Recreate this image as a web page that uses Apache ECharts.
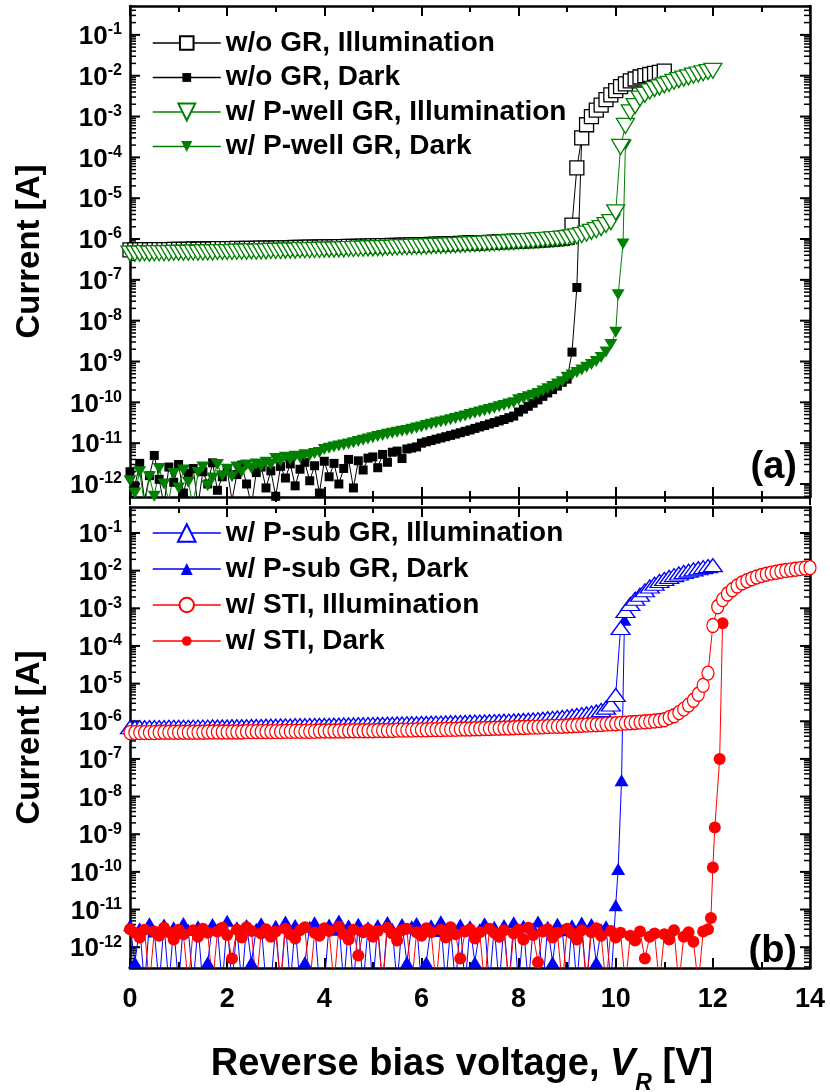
<!DOCTYPE html>
<html>
<head>
<meta charset="utf-8">
<script src="https://cdn.jsdelivr.net/npm/echarts@6/dist/echarts.min.js"></script>
<style>
html,body{margin:0;padding:0;background:#fff;}
#chart{width:830px;height:1092px;}
</style>
</head>
<body>
<div id="chart"></div>
<script>
// ---------------- DATA ----------------
// measurement voltage grid (V)
const vGrid = [
0,0.1,0.2,0.3,0.4,0.5,0.6,0.7,0.8,0.9,
1,1.1,1.2,1.3,1.4,1.5,1.6,1.7,1.8,1.9,
2,2.1,2.2,2.3,2.4,2.5,2.6,2.7,2.8,2.9,
3,3.1,3.2,3.3,3.4,3.5,3.6,3.7,3.8,3.9,
4,4.1,4.2,4.3,4.4,4.5,4.6,4.7,4.8,4.9,
5,5.1,5.2,5.3,5.4,5.5,5.6,5.7,5.8,5.9,
6,6.1,6.2,6.3,6.4,6.5,6.6,6.7,6.8,6.9,
7,7.1,7.2,7.3,7.4,7.5,7.6,7.7,7.8,7.9,
8,8.1,8.2,8.3,8.4,8.5,8.6,8.7,8.8,8.9,
9,9.1,9.2,9.3,9.4,9.5,9.6,9.7,9.8,9.9,
10,10.1,10.2,10.3,10.4,10.5,10.6,10.7,10.8,10.9,
11,11.1,11.2,11.3,11.4,11.5,11.6,11.7,11.8,11.9,
12,12.1,12.2,12.3,12.4,12.5,12.6,12.7,12.8,12.9,
13,13.1,13.2,13.3,13.4,13.5,13.6,13.7,13.8,13.9,
14];

// (a) w/o GR, Illumination  (A), 0 .. 11.0 V
const woIllum = [
5.4e-7,5.4e-7,5.4e-7,5.5e-7,5.4e-7,5.5e-7,5.5e-7,5.5e-7,5.5e-7,5.6e-7,
5.6e-7,5.6e-7,5.6e-7,5.7e-7,5.6e-7,5.7e-7,5.7e-7,5.7e-7,5.8e-7,5.8e-7,
5.8e-7,5.8e-7,5.9e-7,5.8e-7,5.9e-7,5.9e-7,5.9e-7,6.0e-7,6.0e-7,6.0e-7,
6.0e-7,6.1e-7,6.1e-7,6.1e-7,6.2e-7,6.2e-7,6.2e-7,6.3e-7,6.3e-7,6.3e-7,
6.4e-7,6.4e-7,6.4e-7,6.5e-7,6.5e-7,6.6e-7,6.6e-7,6.6e-7,6.7e-7,6.7e-7,
6.8e-7,6.8e-7,6.9e-7,6.9e-7,7.0e-7,7.0e-7,7.1e-7,7.1e-7,7.2e-7,7.2e-7,
7.3e-7,7.3e-7,7.4e-7,7.5e-7,7.5e-7,7.6e-7,7.7e-7,7.7e-7,7.8e-7,7.9e-7,
8.0e-7,8.0e-7,8.1e-7,8.2e-7,8.3e-7,8.4e-7,8.5e-7,8.6e-7,8.7e-7,8.8e-7,
8.9e-7,9.0e-7,9.1e-7,9.2e-7,9.4e-7,9.5e-7,9.7e-7,9.9e-7,1.01e-6,1.04e-6,
1.1e-6,2.2e-6,5.5e-5,3.0e-4,6.3e-4,1.0e-3,1.44e-3,1.9e-3,2.6e-3,3.4e-3,
4.3e-3,5.4e-3,6.3e-3,7.5e-3,8.3e-3,9.3e-3,1.0e-2,1.07e-2,1.14e-2,1.21e-2,
1.3e-2];

// (a) w/o GR, Dark (A), 0 .. 9.3 V
const woDark = [
2.0e-12,9e-13,3.2e-12,4e-13,1.6e-12,5.0e-12,1.3e-12,3e-13,2.6e-12,1.1e-12,
3.0e-12,6e-13,1.8e-12,2.4e-12,3e-13,2.0e-12,1.0e-12,3.3e-12,7e-13,1.5e-12,
2.2e-12,4e-13,1.7e-12,2.9e-12,1.0e-12,3e-13,1.9e-12,2.6e-12,8e-13,2.1e-12,
5e-13,2.7e-12,1.4e-12,3.1e-12,9e-13,2.3e-12,3.4e-12,1.2e-12,2.8e-12,6e-13,
3.6e-12,1.5e-12,3.2e-12,1.0e-12,2.4e-12,4.0e-12,8e-13,3.7e-12,2.2e-12,4.3e-12,
4.6e-12,2.5e-12,5.3e-12,3.4e-12,6.0e-12,6.4e-12,4.2e-12,7.2e-12,7.6e-12,8.1e-12,
1.0e-11,1.08e-11,1.16e-11,1.25e-11,1.34e-11,1.44e-11,1.55e-11,1.67e-11,1.8e-11,1.95e-11,
2.1e-11,2.3e-11,2.5e-11,2.7e-11,2.95e-11,3.2e-11,3.5e-11,3.8e-11,4.2e-11,4.6e-11,
5.8e-11,6.8e-11,8.0e-11,9.5e-11,1.15e-10,1.4e-10,1.7e-10,2.05e-10,2.5e-10,3.1e-10,
3.7e-10,1.7e-9,6.5e-8,3.0e-4];

// (a) w/ P-well GR, Illumination (A), 0 .. 12.0 V
const pwIllum = [
4.4e-7,4.4e-7,4.4e-7,4.5e-7,4.4e-7,4.5e-7,4.5e-7,4.5e-7,4.5e-7,4.6e-7,
4.6e-7,4.6e-7,4.6e-7,4.7e-7,4.6e-7,4.7e-7,4.7e-7,4.7e-7,4.8e-7,4.8e-7,
4.8e-7,4.8e-7,4.9e-7,4.9e-7,4.9e-7,5.0e-7,4.9e-7,5.0e-7,5.0e-7,5.1e-7,
5.1e-7,5.1e-7,5.2e-7,5.2e-7,5.2e-7,5.3e-7,5.3e-7,5.3e-7,5.4e-7,5.4e-7,
5.5e-7,5.5e-7,5.5e-7,5.6e-7,5.6e-7,5.7e-7,5.7e-7,5.8e-7,5.8e-7,5.9e-7,
5.9e-7,6.0e-7,6.0e-7,6.1e-7,6.1e-7,6.2e-7,6.3e-7,6.3e-7,6.4e-7,6.5e-7,
6.5e-7,6.6e-7,6.7e-7,6.8e-7,6.8e-7,6.9e-7,7.0e-7,7.1e-7,7.2e-7,7.3e-7,
7.4e-7,7.5e-7,7.6e-7,7.7e-7,7.8e-7,7.9e-7,8.0e-7,8.2e-7,8.3e-7,8.4e-7,
8.6e-7,8.7e-7,8.9e-7,9.0e-7,9.2e-7,9.4e-7,9.6e-7,9.8e-7,1.0e-6,1.02e-6,
1.05e-6,1.1e-6,1.16e-6,1.24e-6,1.35e-6,1.5e-6,1.65e-6,1.85e-6,2.2e-6,2.6e-6,
4.5e-6,1.8e-4,5.9e-4,1.26e-3,1.8e-3,2.75e-3,3.4e-3,4.1e-3,4.7e-3,5.2e-3,
5.8e-3,6.3e-3,7.1e-3,7.8e-3,8.5e-3,9.1e-3,1.0e-2,1.07e-2,1.15e-2,1.23e-2,
1.32e-2];

// (a) w/ P-well GR, Dark (A), 0 .. 10.0 V on grid, then breakdown points
const pwDark = [
1.2e-12,6e-13,2.0e-12,3e-13,1.5e-12,5e-13,2.4e-12,1.0e-12,4e-13,1.8e-12,
8e-13,2.2e-12,1.1e-12,3e-13,1.9e-12,2.6e-12,9e-13,1.4e-12,3.0e-12,1.6e-12,
2.3e-12,1.5e-12,2.6e-12,2.0e-12,2.9e-12,2.4e-12,3.1e-12,2.7e-12,3.4e-12,3.0e-12,
4.2e-12,3.6e-12,4.5e-12,4.0e-12,4.8e-12,4.4e-12,5.2e-12,5.0e-12,5.6e-12,5.9e-12,
7.0e-12,7.5e-12,8.0e-12,8.5e-12,9.0e-12,9.6e-12,1.02e-11,1.1e-11,1.18e-11,1.26e-11,
1.35e-11,1.45e-11,1.55e-11,1.65e-11,1.75e-11,1.85e-11,1.95e-11,2.05e-11,2.2e-11,2.35e-11,
2.5e-11,2.7e-11,2.9e-11,3.1e-11,3.3e-11,3.5e-11,3.75e-11,4.0e-11,4.3e-11,4.6e-11,
5.0e-11,5.4e-11,5.8e-11,6.2e-11,6.7e-11,7.2e-11,7.8e-11,8.4e-11,9.1e-11,9.8e-11,
1.15e-10,1.25e-10,1.37e-10,1.5e-10,1.65e-10,1.9e-10,2.15e-10,2.45e-10,2.8e-10,3.2e-10,
4.1e-10,4.7e-10,5.4e-10,6.2e-10,7.2e-10,8.5e-10,1.0e-9,1.25e-9,1.7e-9,2.6e-9,
5.2e-9];
const pwDarkTailV = [10.05, 10.15, 10.2];
const pwDarkTailI = [4.3e-8, 7.6e-7, 2.0e-4];

// (b) w/ P-sub GR, Illumination (A), 0 .. 12.0 V
const psIllum = [
6.9e-7,6.9e-7,7.0e-7,6.9e-7,7.0e-7,7.0e-7,7.0e-7,7.0e-7,7.1e-7,7.1e-7,
7.1e-7,7.1e-7,7.1e-7,7.2e-7,7.2e-7,7.2e-7,7.2e-7,7.3e-7,7.3e-7,7.3e-7,
7.3e-7,7.4e-7,7.4e-7,7.4e-7,7.4e-7,7.5e-7,7.5e-7,7.5e-7,7.6e-7,7.6e-7,
7.6e-7,7.7e-7,7.7e-7,7.7e-7,7.8e-7,7.8e-7,7.8e-7,7.9e-7,7.9e-7,8.0e-7,
8.0e-7,8.0e-7,8.1e-7,8.1e-7,8.2e-7,8.2e-7,8.2e-7,8.3e-7,8.3e-7,8.4e-7,
8.4e-7,8.5e-7,8.5e-7,8.6e-7,8.6e-7,8.7e-7,8.7e-7,8.8e-7,8.9e-7,8.9e-7,
9.0e-7,9.0e-7,9.1e-7,9.2e-7,9.2e-7,9.3e-7,9.4e-7,9.4e-7,9.5e-7,9.6e-7,
9.7e-7,9.8e-7,9.8e-7,9.9e-7,1.0e-6,1.01e-6,1.02e-6,1.03e-6,1.04e-6,1.05e-6,
1.06e-6,1.08e-6,1.1e-6,1.12e-6,1.14e-6,1.17e-6,1.2e-6,1.23e-6,1.26e-6,1.3e-6,
1.35e-6,1.4e-6,1.46e-6,1.53e-6,1.61e-6,1.7e-6,1.82e-6,2.0e-6,2.3e-6,2.8e-6,
5.0e-6,3.0e-4,8.5e-4,1.3e-3,1.8e-3,2.3e-3,3.0e-3,3.8e-3,4.5e-3,5.3e-3,
6.0e-3,6.8e-3,7.6e-3,8.4e-3,9.2e-3,1.0e-2,1.08e-2,1.16e-2,1.24e-2,1.32e-2,
1.4e-2];

// (b) w/ P-sub GR, Dark (A), 0 .. 10.0 V on grid, then breakdown points
const psDark = [
3.8e-12,4e-13,3.2e-12,1e-13,4.3e-12,2.6e-12,1e-13,4.0e-12,1e-13,3.4e-12,
1e-13,4.4e-12,2.9e-12,1e-13,3.6e-12,1e-13,4e-13,4.1e-12,3.0e-12,1e-13,
5.0e-12,1e-13,3.4e-12,1e-13,3.9e-12,4e-13,3.1e-12,4.3e-12,1e-13,1e-13,
3.7e-12,1e-13,4.8e-12,1e-13,3.9e-12,1e-13,4e-13,3.5e-12,4.6e-12,1e-13,
1e-13,4.0e-12,2.9e-12,5.1e-12,1e-13,3.8e-12,1e-13,4.2e-12,1e-13,3.4e-12,
1e-13,3.9e-12,1e-13,4.7e-12,3.1e-12,1e-13,4.1e-12,4e-13,3.6e-12,4.4e-12,
1e-13,4e-13,3.8e-12,2.7e-12,4.9e-12,1e-13,3.3e-12,1e-13,4.0e-12,1e-13,
3.6e-12,4e-13,3.0e-12,4.3e-12,1e-13,3.5e-12,1e-13,3.9e-12,1e-13,4.6e-12,
1e-13,3.7e-12,1e-13,3.2e-12,4.8e-12,1e-13,3.5e-12,4e-13,4.2e-12,2.8e-12,
1e-13,3.8e-12,1e-13,4.5e-12,1e-13,4.1e-12,4e-13,3.0e-12,3.6e-12,1e-13,
1.3e-11];
const psDarkTailV = [10.05, 10.12, 10.18];
const psDarkTailI = [1.2e-10, 2.7e-8, 5.0e-4];

// (b) w/ STI, Illumination (A), 0 .. 14.0 V
const stiIllum = [
5.0e-7,5.0e-7,5.0e-7,5.0e-7,5.0e-7,5.0e-7,5.1e-7,5.1e-7,5.1e-7,5.1e-7,
5.1e-7,5.1e-7,5.1e-7,5.1e-7,5.1e-7,5.1e-7,5.2e-7,5.2e-7,5.2e-7,5.2e-7,
5.2e-7,5.2e-7,5.2e-7,5.2e-7,5.3e-7,5.3e-7,5.3e-7,5.3e-7,5.3e-7,5.3e-7,
5.3e-7,5.3e-7,5.4e-7,5.4e-7,5.4e-7,5.4e-7,5.4e-7,5.4e-7,5.4e-7,5.5e-7,
5.5e-7,5.5e-7,5.5e-7,5.5e-7,5.5e-7,5.6e-7,5.6e-7,5.6e-7,5.6e-7,5.6e-7,
5.6e-7,5.7e-7,5.7e-7,5.7e-7,5.7e-7,5.8e-7,5.8e-7,5.8e-7,5.8e-7,5.9e-7,
5.9e-7,5.9e-7,6.0e-7,6.0e-7,6.0e-7,6.1e-7,6.1e-7,6.1e-7,6.2e-7,6.2e-7,
6.2e-7,6.3e-7,6.3e-7,6.4e-7,6.4e-7,6.5e-7,6.5e-7,6.6e-7,6.6e-7,6.7e-7,
6.8e-7,6.8e-7,6.9e-7,7.0e-7,7.0e-7,7.1e-7,7.2e-7,7.3e-7,7.3e-7,7.4e-7,
7.5e-7,7.6e-7,7.7e-7,7.8e-7,7.9e-7,8.0e-7,8.1e-7,8.2e-7,8.4e-7,8.5e-7,
8.6e-7,8.8e-7,8.9e-7,9.1e-7,9.3e-7,9.5e-7,9.7e-7,9.9e-7,1.02e-6,1.05e-6,
1.1e-6,1.25e-6,1.4e-6,1.7e-6,2.1e-6,2.7e-6,3.6e-6,5.2e-6,9.0e-6,1.9e-5,
3.5e-4,1.1e-3,1.7e-3,2.4e-3,3.1e-3,3.9e-3,4.7e-3,5.4e-3,6.1e-3,6.8e-3,
7.4e-3,8.0e-3,8.6e-3,9.1e-3,9.6e-3,1.01e-2,1.05e-2,1.09e-2,1.13e-2,1.17e-2,
1.2e-2];

// (b) w/ STI, Dark (A), 0 .. 11.9 V on grid, then breakdown points
const stiDark = [
3.0e-12,2.4e-12,1.8e-12,2.9e-12,1e-13,2.6e-12,2.0e-12,3.3e-12,2.5e-12,1.6e-12,
2.9e-12,2.2e-12,1e-13,2.8e-12,1.9e-12,3.1e-12,2.4e-12,1e-13,2.6e-12,3.3e-12,
2.1e-12,5e-13,2.9e-12,1.8e-12,3.4e-12,2.7e-12,1e-13,2.3e-12,3.0e-12,1.9e-12,
2.6e-12,1e-13,3.1e-12,2.2e-12,1.7e-12,2.8e-12,3.4e-12,1e-13,2.4e-12,2.0e-12,
3.2e-12,2.7e-12,1e-13,3.5e-12,2.2e-12,1.6e-12,2.9e-12,6e-13,2.5e-12,3.0e-12,
1.9e-12,2.7e-12,1e-13,3.3e-12,2.3e-12,1.5e-12,2.8e-12,3.1e-12,1e-13,2.5e-12,
2.0e-12,3.2e-12,2.5e-12,1e-13,2.9e-12,1.8e-12,3.4e-12,2.2e-12,5e-13,2.6e-12,
3.0e-12,1.7e-12,2.5e-12,1e-13,3.1e-12,2.4e-12,1.9e-12,2.8e-12,1e-13,2.3e-12,
2.9e-12,1.6e-12,3.3e-12,2.1e-12,4e-13,2.6e-12,3.0e-12,1.8e-12,2.4e-12,1e-13,
3.1e-12,2.3e-12,1.6e-12,2.8e-12,1e-13,2.5e-12,3.2e-12,2.0e-12,1e-13,2.7e-12,
1.8e-12,2.4e-12,1e-13,2.0e-12,1.5e-12,2.6e-12,5e-13,1.9e-12,2.3e-12,1e-13,
2.2e-12,1.6e-12,2.8e-12,1e-13,1.9e-12,2.5e-12,1.4e-12,1e-13,2.6e-12,3.0e-12];
const stiDarkTailV = [11.96, 12.0, 12.04, 12.14, 12.2];
const stiDarkTailI = [6e-12, 1.3e-10, 1.5e-9, 1.0e-7, 4.0e-4];

// axis tick labels
const xTicks = [0, 2, 4, 6, 8, 10, 12, 14];
const yTickExps = [-12, -11, -10, -9, -8, -7, -6, -5, -4, -3, -2, -1];

// ---------------- CHART ----------------
const FONT = '"Liberation Sans", Arial, sans-serif';
const pts = (vs, is) => is.map((c, k) => [vs[k], c]);

const yMajor = yTickExps.map(e => Math.pow(10, e));
const yMinor = [];
for (let e = -13; e <= -1; e++) for (let m = 2; m <= 9; m++) yMinor.push(m * Math.pow(10, e));
const yAllTicks = yMajor.concat(yMinor).sort((a, b) => a - b);
const isMajor = v => Math.abs(Math.log10(v) - Math.round(Math.log10(v))) < 1e-6;

const TRI_DOWN = 'path://M0,0L20,0L10,17.32Z';

function mk(name, g, data, o) {
  return {
    name: name, type: 'line', xAxisIndex: g * 2, yAxisIndex: g * 4, data: data,
    symbol: o.symbol, symbolSize: o.size, showSymbol: true, showAllSymbol: true,
    color: o.color,
    lineStyle: { color: o.color, width: o.lw || 1 },
    itemStyle: o.open ? { color: '#fff', borderColor: o.color, borderWidth: 1.3 }
                      : { color: o.color, borderWidth: 0 },
    emphasis: { disabled: true }, silent: true, clip: true, animation: false
  };
}

const series = [
  mk('w/o GR, Dark', 0, pts(vGrid, woDark), { symbol: 'rect', size: 9, color: '#000' }),
  mk('w/ P-well GR, Dark', 0, pts(vGrid, pwDark).concat(pts(pwDarkTailV, pwDarkTailI)),
     { symbol: TRI_DOWN, size: [13, 11], color: '#008000' }),
  mk('w/o GR, Illumination', 0, pts(vGrid, woIllum), { symbol: 'rect', size: 14, color: '#000', open: true }),
  mk('w/ P-well GR, Illumination', 0, pts(vGrid, pwIllum), { symbol: TRI_DOWN, size: [18, 15], color: '#008000', open: true }),
  mk('w/ P-sub GR, Dark', 1, pts(vGrid, psDark).concat(pts(psDarkTailV, psDarkTailI)),
     { symbol: 'triangle', size: [14, 12], color: '#0000ff' }),
  mk('w/ STI, Dark', 1, pts(vGrid, stiDark).concat(pts(stiDarkTailV, stiDarkTailI)),
     { symbol: 'circle', size: 12, color: '#ff0000' }),
  mk('w/ P-sub GR, Illumination', 1, pts(vGrid, psIllum), { symbol: 'triangle', size: [19, 13], color: '#0000ff', open: true }),
  mk('w/ STI, Illumination', 1, pts(vGrid, stiIllum), { symbol: 'circle', size: [12, 14], color: '#ff0000', open: true })
];

const legendRows = [
  { name: 'w/o GR, Illumination', c: 43, h: 17 },
  { name: 'w/o GR, Dark', c: 77.5, h: 11 },
  { name: 'w/ P-well GR, Illumination', c: 112, h: 21 },
  { name: 'w/ P-well GR, Dark', c: 146.5, h: 14 },
  { name: 'w/ P-sub GR, Illumination', c: 533, h: 22 },
  { name: 'w/ P-sub GR, Dark', c: 569, h: 15 },
  { name: 'w/ STI, Illumination', c: 605, h: 18 },
  { name: 'w/ STI, Dark', c: 641, h: 12 }
];
const legends = legendRows.map(r => ({
  data: [r.name], left: 152, top: r.c - 15, orient: 'vertical', padding: 0,
  itemWidth: 68, itemHeight: r.h, itemGap: 0, selectedMode: false,
  lineStyle: { width: 1.5 },
  textStyle: { fontFamily: FONT, fontSize: 28, fontWeight: 'bold', color: '#000', lineHeight: 30 }
}));

const grids = [
  { left: 130, right: 20, top: 6, height: 491, outerBoundsMode: 'none' },
  { left: 130, right: 20, top: 507, height: 461, outerBoundsMode: 'none' }
];
const yRanges = [[4.8e-13, 0.51], [2.8e-13, 0.49]];

const AXLINE = { show: true, onZero: false, lineStyle: { color: '#000', width: 2.5 } };

function xAxes(g) {
  const base = {
    type: 'value', gridIndex: g, min: 0, max: 14, interval: 2,
    axisLine: AXLINE, splitLine: { show: false },
    axisTick: { show: true, inside: true, length: 10, lineStyle: { color: '#000', width: 2 } },
    minorTick: { show: true, splitNumber: 2, length: 6, lineStyle: { color: '#000', width: 2 } },
    minorSplitLine: { show: false }
  };
  const bottom = Object.assign({}, base, {
    position: 'bottom',
    axisLabel: {
      show: g === 1, margin: 18, fontFamily: FONT, fontSize: 27, fontWeight: 'bold', color: '#000',
      customValues: xTicks
    }
  });
  if (g === 1) {
    Object.assign(bottom, {
      name: '{n|Reverse bias voltage, }{i|V}{r|R}{n| [V]}',
      nameLocation: 'middle', nameGap: 78,
      nameTextStyle: {
        color: '#000', padding: [0, 16, 0, 0],
        rich: {
          n: { fontFamily: FONT, fontSize: 38, fontWeight: 'bold', color: '#000', lineHeight: 38, verticalAlign: 'top' },
          i: { fontFamily: FONT, fontSize: 38, fontWeight: 'bold', fontStyle: 'italic', color: '#000', lineHeight: 38, verticalAlign: 'top' },
          r: { fontFamily: FONT, fontSize: 23, fontWeight: 'bold', fontStyle: 'italic', color: '#000', lineHeight: 23, padding: [26, 0, 0, 0], verticalAlign: 'top' }
        }
      }
    });
  }
  const top = Object.assign({}, base, { position: 'top', axisLabel: { show: false } });
  return [bottom, top];
}

// outward half of the crossing ticks under panel (a)
const xOutTicksA = {
  type: 'value', gridIndex: 0, position: 'bottom', min: 0, max: 14, interval: 2,
  axisLine: { show: false }, splitLine: { show: false }, axisLabel: { show: false },
  axisTick: { show: true, inside: false, length: 8, lineStyle: { color: '#000', width: 2 } },
  minorTick: { show: true, splitNumber: 2, length: 5, lineStyle: { color: '#000', width: 2 } },
  minorSplitLine: { show: false }
};

// tick marks of the log axes, drawn as tiny inside labels at the decade / sub-decade values
const tickLabel = {
  show: true, inside: true, margin: 0, customValues: yAllTicks,
  showMinLabel: true, showMaxLabel: true, hideOverlap: false,
  formatter: v => isMajor(v) ? '{M| }' : '{m| }',
  rich: {
    M: { width: 10, height: 2, lineHeight: 2, fontSize: 1, backgroundColor: '#000' },
    m: { width: 6, height: 1.5, lineHeight: 1.5, fontSize: 1, backgroundColor: '#000' }
  }
};

function yAxes(g) {
  const [mn, mx] = yRanges[g];
  const base = { type: 'log', logBase: 10, gridIndex: g, min: mn, max: mx, splitLine: { show: false }, minorTick: { show: false } };
  const leftMain = Object.assign({}, base, {
    position: 'left', axisLine: AXLINE, axisTick: { show: false },
    axisLabel: {
      show: true, margin: 8, customValues: yMajor,
      formatter: v => '{b|10}{s|' + Math.round(Math.log10(v)) + '}',
      rich: {
        b: { fontFamily: FONT, fontSize: 26, fontWeight: 'bold', color: '#000', lineHeight: 26, padding: [2, 0, 0, 0], verticalAlign: 'top' },
        s: { fontFamily: FONT, fontSize: 16, fontWeight: 'bold', color: '#000', lineHeight: 16, verticalAlign: 'top' }
      }
    },
    name: 'Current [A]', nameLocation: 'middle', nameRotate: 90, nameGap: 84,
    nameTextStyle: { fontFamily: FONT, fontSize: 33, fontWeight: 'bold', color: '#000' }
  });
  const leftTicks = Object.assign({}, base, { position: 'left', axisLine: { show: false }, axisTick: { show: false }, axisLabel: tickLabel });
  const rightMain = Object.assign({}, base, { position: 'right', axisLine: AXLINE, axisTick: { show: false }, axisLabel: { show: false } });
  const rightTicks = Object.assign({}, base, { position: 'right', axisLine: { show: false }, axisTick: { show: false }, axisLabel: tickLabel });
  return [leftMain, leftTicks, rightMain, rightTicks];
}

const option = {
  animation: false,
  backgroundColor: '#fff',
  textStyle: { fontFamily: FONT },
  grid: grids,
  xAxis: xAxes(0).concat(xAxes(1)).concat([xOutTicksA]),
  yAxis: yAxes(0).concat(yAxes(1)),
  legend: legends,
  series: series,
  graphic: [
    { type: 'text', right: 33, top: 449, silent: true,
      style: { text: '(a)', fontFamily: FONT, fontSize: 38, fontWeight: 'bold', fill: '#000' } },
    { type: 'text', right: 33, top: 933, silent: true,
      style: { text: '(b)', fontFamily: FONT, fontSize: 38, fontWeight: 'bold', fill: '#000' } }
  ]
};

const chart = echarts.init(document.getElementById('chart'), null, { renderer: 'canvas' });
chart.setOption(option);
</script>
</body>
</html>
